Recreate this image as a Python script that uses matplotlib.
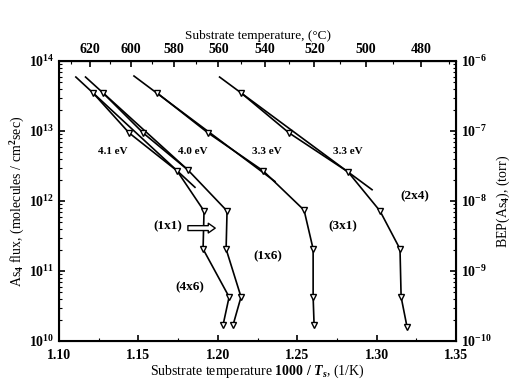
import numpy as np
import matplotlib
matplotlib.use('Agg')
import matplotlib.pyplot as plt
from matplotlib.ticker import LogLocator, FixedLocator, NullFormatter

plt.rcParams['font.family'] = 'Liberation Serif'
plt.rcParams['font.weight'] = 'bold'
plt.rcParams['mathtext.fontset'] = 'custom'
plt.rcParams['mathtext.rm'] = 'Liberation Serif:bold'
plt.rcParams['mathtext.it'] = 'Liberation Serif:italic:bold'
plt.rcParams['mathtext.bf'] = 'Liberation Serif:bold'

# As4 flux vs 1000/Ts for the four phase boundaries
x_a = [1.1214, 1.1441, 1.1743, 1.1913, 1.1907, 1.2071, 1.2033]
y_a = [3.5e13, 9.4e12, 2.7e12, 7.2e11, 2.06e11, 4.26e10, 1.7e10]
x_b = [1.1277, 1.1529, 1.1812, 1.2058, 1.2052, 1.2146, 1.2096]
y_b = [3.5e13, 9.4e12, 2.77e12, 7.2e11, 2.06e11, 4.26e10, 1.7e10]
x_c = [1.1617, 1.1938, 1.2285, 1.2543, 1.2600, 1.2600, 1.2606]
y_c = [3.5e13, 9.4e12, 2.7e12, 7.4e11, 2.06e11, 4.26e10, 1.7e10]
x_d = [1.2146, 1.2448, 1.2820, 1.3021, 1.3147, 1.3154, 1.3191]
y_d = [3.5e13, 9.4e12, 2.6e12, 7.2e11, 2.06e11, 4.26e10, 1.6e10]

# Arrhenius fit lines (start, end)
fit_a = ([1.1106, 1.1856], [5.9e13, 1.57e12])
fit_b = ([1.1167, 1.1812], [5.9e13, 2.77e12])
fit_c = ([1.1472, 1.2360], [6.1e13, 1.9e12])
fit_d = ([1.2011, 1.2971], [5.9e13, 1.45e12])

energies = ['4.1 eV', '4.0 eV', '3.3 eV', '3.3 eV']
energy_x = [1.134, 1.1844, 1.231, 1.282]
energy_y = 5.1e12

phases = ['(1x1)', '(1x6)', '(4x6)', '(3x1)', '(2x4)']
phase_x = [1.1686, 1.2316, 1.1825, 1.2788, 1.3242]
phase_y = [4.4e11, 1.6e11, 5.9e10, 4.4e11, 1.15e12]

celsius_ticks = [620, 600, 580, 560, 540, 520, 500, 480]

fig = plt.figure(figsize=(5.11, 3.80), dpi=100)
ax = fig.add_axes([0.1155, 0.1026, 0.7770, 0.7369])

for fx, fy in (fit_a, fit_b, fit_c, fit_d):
    ax.plot(fx, fy, color='black', lw=1.2)
for xs, ys in ((x_a, y_a), (x_b, y_b), (x_c, y_c), (x_d, y_d)):
    ax.plot(xs, ys, color='black', lw=1.2, marker='v', ms=5,
            mfc='white', mec='black', mew=1.0)

ax.set_yscale('log')
ax.set_xlim(1.10, 1.35)
ax.set_ylim(1e10, 1e14)
ax.set_xticks([1.10, 1.15, 1.20, 1.25, 1.30, 1.35])
ax.set_xticklabels(['1.10', '1.15', '1.20', '1.25', '1.30', '1.35'])
ax.xaxis.set_minor_locator(FixedLocator(np.arange(1.10, 1.351, 0.025)))
ax.set_yticks([1e10, 1e11, 1e12, 1e13, 1e14])
ax.set_yticklabels([r'$\mathbf{10^{%d}}$' % e for e in range(10, 15)])
ax.yaxis.set_minor_locator(LogLocator(subs=np.arange(2, 10)))
ax.yaxis.set_minor_formatter(NullFormatter())
ax.tick_params(which='both', direction='in', labelsize=10)
ax.tick_params(which='major', length=4, width=1.2)
ax.tick_params(which='minor', length=2, width=0.8)
ax.tick_params(axis='y', right=False)
ax.tick_params(axis='x', pad=6)
for s in ax.spines.values():
    s.set_linewidth(1.5)

ax.set_xlabel(r'Substrate temperature $\mathit{1000\ /\ T_s}$, (1/K)',
              fontsize=10, labelpad=0)
ax.set_ylabel(r'As$_4$ flux, (molecules / cm$^2$sec)', fontsize=10, labelpad=1)

# beam equivalent pressure axis on the right
ay = ax.twinx()
ay.set_yscale('log')
ay.set_ylim(1e-10, 1e-6)
ay.set_yticks([1e-10, 1e-9, 1e-8, 1e-7, 1e-6])
ay.set_yticklabels([r'$\mathbf{10^{%d}}$' % e for e in range(-10, -5)])
ay.yaxis.set_minor_locator(LogLocator(subs=np.arange(2, 10)))
ay.yaxis.set_minor_formatter(NullFormatter())
ay.tick_params(which='both', direction='in', labelsize=10)
ay.tick_params(which='major', length=4, width=1.2)
ay.tick_params(which='minor', length=2, width=0.8)
ay.set_ylabel(r'BEP(As$_4$), (torr)', fontsize=10, labelpad=2)

# Celsius scale on top
top = ax.secondary_xaxis('top', functions=(lambda v: 1000.0 / v - 273.15,
                                            lambda t: 1000.0 / (t + 273.15)))
top.set_xticks(celsius_ticks)
top.set_xticklabels([str(t) for t in celsius_ticks])
top.xaxis.set_minor_locator(FixedLocator(np.arange(470, 631, 10)))
top.tick_params(which='both', direction='in', labelsize=10)
top.tick_params(which='major', length=4, width=1.2)
top.tick_params(which='minor', length=2, width=0.8)
top.set_xlabel('Substrate temperature, (°C)', fontsize=9.5, labelpad=3)

for lab, ex in zip(energies, energy_x):
    ax.text(ex, energy_y, lab, fontsize=8, ha='center', va='center')
for lab, px, py in zip(phases, phase_x, phase_y):
    ax.text(px, py, lab, fontsize=9.5, ha='center', va='center')

ax.annotate('', xy=(1.2001, 4.1e11), xytext=(1.1794, 4.1e11),
            arrowprops=dict(arrowstyle='simple,head_width=0.7,tail_width=0.35',
                            fc='white', ec='black', lw=1.0))

fig.savefig('out.png', dpi=100)
